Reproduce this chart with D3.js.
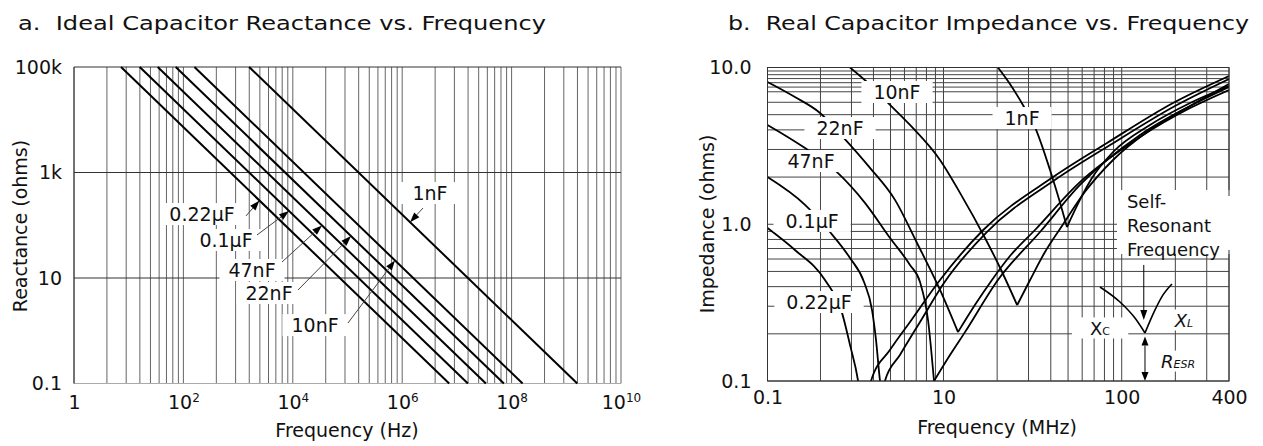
<!DOCTYPE html>
<html>
<head>
<meta charset="utf-8">
<script src="https://cdn.jsdelivr.net/npm/d3@7"></script>
<style>
  body { margin: 0; background: #fff; }
  svg text { font-family: "DejaVu Sans", sans-serif; fill: #111; }
</style>
</head>
<body>
<svg id="chart" width="1263" height="446"></svg>
<script>
// ---------- panel a : ideal capacitor reactance ----------
var capNames = ["1nF", "10nF", "22nF", "47nF", "0.1\u00b5F", "0.22\u00b5F"];
// frequency (Hz) where each ideal line enters at the top (100k) and leaves at the bottom (0.1 ohm)
var idealTopHz = [1592, 159, 72.3, 33.9, 15.9, 7.23];
var idealBottomHz = [1.59e9, 1.59e8, 7.23e7, 3.39e7, 1.59e7, 7.23e6];
var idealTopOhm = 1e5, idealBottomOhm = 0.1;

var aXTicks = [1, 1e2, 1e4, 1e6, 1e8, 1e10];
var aXTickExp = ["", "2", "4", "6", "8", "10"];
var aYTicks = [0.1, 10, 1e3, 1e5];
var aYTickLabels = ["0.1", "10", "1k", "100k"];
var gridMultiples = [1, 2, 3, 4, 5, 6, 7, 8, 9];

// annotation of panel a, same order as capNames: label centre [Hz, ohm], arrow tail [Hz, ohm], arrow tip Hz
var aLabelAt = [[3.22e6, 408], [25500, 1.28], [3670, 5.2], [1795, 14.2], [601, 52.5], [219, 163]];
var aArrowTail = [[2.4e6, 212], [102000, 1.40], [12450, 5.93], [6350, 20.1], [2217, 65.3], [1393, 150]];
var aArrowTipHz = [1.39e6, 738000, 116000, 34200, 8530, 2460];

// ---------- panel b : real capacitor impedance [MHz, ohm] ----------
var zDown1nF = [[20.2, 10], [23.6, 7.85], [27.9, 5.77], [32.6, 4.17], [39.6, 2.22], [45.1, 1.37], [49.3, 0.96]];
var zUp1nF = [[49.3, 0.96], [58.3, 1.43], [68.1, 1.97], [89.4, 2.89], [144, 4.30], [242, 5.94], [400, 7.62]];
var zDown10nF = [[0.866, 10], [1.35, 8.08], [2.28, 6.03], [4.16, 4.30], [9.13, 2.57], [12.4, 1.58], [17.1, 0.817], [20.8, 0.526], [25.9, 0.305]];
var zUp10nF = [[25.9, 0.305], [30.6, 0.441], [37.1, 0.665], [46.2, 0.975], [62.2, 1.61], [89.4, 2.57], [144, 3.99], [242, 5.68], [400, 7.85]];
var zDown22nF = [[0.1, 8.08], [0.205, 6.48], [0.395, 5.13], [0.722, 3.60], [1.46, 2.29], [2.81, 1.43], [5.00, 0.759], [9.13, 0.381], [12.06, 0.205]];
var zUp22nF = [[12.06, 0.205], [15.0, 0.305], [18.7, 0.441], [23.6, 0.627], [32.6, 0.919], [56.9, 1.81], [126.7, 3.60], [242, 5.51], [400, 7.19]];
var zDown47nF = [[0.1, 4.30], [0.267, 3.06], [0.616, 2.15], [1.28, 1.37], [2.47, 0.817], [4.16, 0.55], [5.41, 0.428], [6.67, 0.245], [7.80, 0.1]];
var zUp47nF = [[7.80, 0.1], [10.9, 0.147], [13.2, 0.205], [20.2, 0.441], [34.8, 0.892], [58.3, 1.78], [126.7, 3.71], [242, 5.68], [400, 7.51]];
var zDown100nF = [[0.1, 2.00], [0.267, 1.33], [0.513, 0.892], [0.866, 0.609], [1.25, 0.428], [1.54, 0.284], [1.71, 0.183], [1.90, 0.1], [1.95, 0.09]];
var zUp100nF = [[2.10, 0.09], [2.16, 0.1], [3.21, 0.147], [5.41, 0.238], [10.06, 0.422], [17.5, 0.892], [42.3, 1.92], [86.0, 3.20], [199, 5.68], [400, 8.45]];
var zDown220nF = [[0.1, 0.946], [0.205, 0.685], [0.45, 0.441], [0.703, 0.272], [0.866, 0.170], [1.07, 0.1], [1.1, 0.09]];
var zUp220nF = [[1.46, 0.09], [1.50, 0.1], [2.47, 0.158], [4.16, 0.238], [9.13, 0.441], [16.7, 0.919], [41.2, 2.00], [82.7, 3.30], [194, 5.94], [400, 8.83]];

var bXTicks = [0.1, 10, 100, 400];
var bYTicks = [0.1, 1, 10];
var bYTickLabels = ["0.1", "1.0", "10.0"];
var bYExtraGrid = [7.5, 8.5, 9.5];
// label centres in panel b [MHz, ohm], same order as capNames
var bLabelAt = [[27.6, 4.76], [2.96, 6.98], [0.667, 4.11], [0.312, 2.53], [0.321, 1.05], [0.385, 0.319]];

// self resonance sketch [MHz, ohm]
var srLeft = [[75.5, 0.398], [97.8, 0.319], [118.7, 0.252], [135.1, 0.2025]];
var srRight = [[135.1, 0.2025], [153.8, 0.284], [170.5, 0.354], [191.4, 0.416]];
var srArrow = [[133, 0.55], [133, 0.245]];
var srEsr = [[135.1, 0.192], [135.1, 0.1]];
var srTextAt = [107, 1.39];
var xcAt = [75.5, 0.218], xlAt = [223.7, 0.245], esrAt = [207, 0.134];

var svg = d3.select("#chart");

function addLabel(g, x, y, str, padX, padY, size) {
  var t = g.append("text").attr("x", x).attr("y", y)
    .attr("text-anchor", "middle").attr("dominant-baseline", "central")
    .style("font-size", (size || 19) + "px").text(str);
  var bb = t.node().getBBox();
  g.insert("rect", function () { return t.node(); })
    .attr("x", bb.x - padX).attr("y", bb.y - padY)
    .attr("width", bb.width + 2 * padX).attr("height", bb.height + 2 * padY)
    .attr("fill", "#fff");
  return t;
}

function arrowHead(g, x1, y1, x2, y2, len, half) {
  var a = Math.atan2(y2 - y1, x2 - x1);
  var bx = x2 - len * Math.cos(a), by = y2 - len * Math.sin(a);
  g.append("path")
    .attr("d", "M" + x2 + "," + y2 + "L" + (bx - half * Math.sin(a)) + "," + (by + half * Math.cos(a)) +
      "L" + (bx + half * Math.sin(a)) + "," + (by - half * Math.cos(a)) + "Z")
    .attr("fill", "#000");
  return [bx, by];
}

function addArrow(g, x1, y1, x2, y2, color) {
  var b = arrowHead(g, x1, y1, x2, y2, 10, 3.5);
  g.append("line").attr("x1", x1).attr("y1", y1).attr("x2", b[0]).attr("y2", b[1])
    .attr("stroke", color).attr("stroke-width", 1);
}

function idealOhmAt(i, f) {
  var t = (Math.log(f) - Math.log(idealTopHz[i])) / (Math.log(idealBottomHz[i]) - Math.log(idealTopHz[i]));
  return Math.exp(Math.log(idealTopOhm) + t * (Math.log(idealBottomOhm) - Math.log(idealTopOhm)));
}

// ================= panel a =================
var xa = d3.scaleLog().domain([1, 1e10]).range([74, 621]);
var ya = d3.scaleLog().domain([0.1, 1e5]).range([383.5, 67]);
var ga = svg.append("g");

ga.append("text").attr("x", 18).attr("y", 30).style("font-size", "20px")
  .attr("textLength", 528).attr("lengthAdjust", "spacingAndGlyphs")
  .text("a.\u00a0 Ideal Capacitor Reactance vs. Frequency");

// log paper: every cycle of the grid covers two decades
var aGrid = [];
for (var c = 0; c < 5; c++) gridMultiples.forEach(function (k) { aGrid.push(Math.pow(100, c) * k * k); });
aGrid.push(1e10);
ga.selectAll(".vgrid").data(aGrid).enter().append("line")
  .attr("x1", function (d) { return xa(d); }).attr("x2", function (d) { return xa(d); })
  .attr("y1", ya(0.1)).attr("y2", ya(1e5))
  .attr("stroke", "#555").attr("stroke-width", 0.9);
ga.selectAll(".hgrid").data(aYTicks).enter().append("line")
  .attr("x1", xa(1)).attr("x2", xa(1e10))
  .attr("y1", function (d) { return ya(d); }).attr("y2", function (d) { return ya(d); })
  .attr("stroke", function (d) { return d === 0.1 ? "#aaa" : "#333"; }).attr("stroke-width", 1);
ga.append("line").attr("x1", xa(1)).attr("x2", xa(1)).attr("y1", ya(0.1)).attr("y2", ya(1e5))
  .attr("stroke", "#333");

var lineA = d3.line().x(function (d) { return xa(d[0]); }).y(function (d) { return ya(d[1]); });
capNames.forEach(function (n, i) {
  ga.append("path")
    .attr("d", lineA([[idealTopHz[i], idealTopOhm], [idealBottomHz[i], idealBottomOhm]]))
    .attr("fill", "none").attr("stroke", "#000").attr("stroke-width", 2);
});

capNames.forEach(function (n, i) {
  addLabel(ga, xa(aLabelAt[i][0]), ya(aLabelAt[i][1]), n, i === 0 ? 14 : 9, 0);
  var tf = aArrowTipHz[i];
  addArrow(ga, xa(aArrowTail[i][0]), ya(aArrowTail[i][1]), xa(tf), ya(idealOhmAt(i, tf)), "#444");
});

var axA = ga.append("g").attr("transform", "translate(0," + ya(0.1) + ")")
  .call(d3.axisBottom(xa).tickValues(aXTicks).tickSize(0).tickPadding(12).tickFormat(function () { return ""; }));
axA.select(".domain").remove();
axA.selectAll(".tick text").style("font-size", "19px").attr("font-family", null)
  .each(function (d, i) {
    var t = d3.select(this);
    t.text(i === 0 ? "1" : "10");
    if (aXTickExp[i]) t.append("tspan").attr("dy", "-0.55em").style("font-size", "12px").text(aXTickExp[i]);
  });
var ayA = ga.append("g").attr("transform", "translate(" + xa(1) + ",0)")
  .call(d3.axisLeft(ya).tickValues(aYTicks).tickSize(0).tickPadding(12)
    .tickFormat(function (d, i) { return aYTickLabels[i]; }));
ayA.select(".domain").remove();
ayA.selectAll(".tick text").style("font-size", "19px").attr("font-family", null);

ga.append("text").attr("x", 347).attr("y", 437).attr("text-anchor", "middle")
  .style("font-size", "19px").text("Frequency (Hz)");
ga.append("text").attr("transform", "translate(27,226) rotate(-90)").attr("text-anchor", "middle")
  .style("font-size", "19px").text("Reactance (ohms)");

// ================= panel b =================
var xb = d3.scaleLog().domain([0.1, 10, 400]).range([767.5, 943.5, 1229]);
var yb = d3.scaleLog().domain([0.1, 10]).range([381, 67.5]);
var gb = svg.append("g");

gb.append("text").attr("x", 728).attr("y", 30).style("font-size", "20px")
  .attr("textLength", 521).attr("lengthAdjust", "spacingAndGlyphs")
  .text("b.\u00a0 Real Capacitor Impedance vs. Frequency");

var bGridX = [];
gridMultiples.forEach(function (k) { bGridX.push(0.1 * k * k); });
gridMultiples.forEach(function (k) { bGridX.push(10 * k); });
[1, 2, 3, 4].forEach(function (k) { bGridX.push(100 * k); });
var bGridY = [];
gridMultiples.forEach(function (k) { bGridY.push(0.1 * k); bGridY.push(k); });
bGridY = bGridY.concat(bYExtraGrid, [10]);

gb.selectAll(".vgrid").data(bGridX).enter().append("line")
  .attr("x1", function (d) { return xb(d); }).attr("x2", function (d) { return xb(d); })
  .attr("y1", yb(0.1)).attr("y2", yb(10))
  .attr("stroke", "#444").attr("stroke-width", 1);
gb.selectAll(".hgrid").data(bGridY).enter().append("line")
  .attr("x1", xb(0.1)).attr("x2", xb(400))
  .attr("y1", function (d) { return yb(d); }).attr("y2", function (d) { return yb(d); })
  .attr("stroke", "#444").attr("stroke-width", 1);

gb.append("clipPath").attr("id", "clipB").append("rect")
  .attr("x", xb(0.1)).attr("y", yb(10)).attr("width", xb(400) - xb(0.1)).attr("height", yb(0.1) - yb(10));
var curvesB = gb.append("g").attr("clip-path", "url(#clipB)");
var lineB = d3.line().x(function (d) { return xb(d[0]); }).y(function (d) { return yb(d[1]); })
  .curve(d3.curveMonotoneX);
[zDown1nF, zUp1nF, zDown10nF, zUp10nF, zDown22nF, zUp22nF, zDown47nF, zUp47nF,
  zDown100nF, zUp100nF, zDown220nF, zUp220nF].forEach(function (s) {
  curvesB.append("path").attr("d", lineB(s)).attr("fill", "none")
    .attr("stroke", "#000").attr("stroke-width", 1.8);
});

capNames.forEach(function (n, i) {
  addLabel(gb, xb(bLabelAt[i][0]), yb(bLabelAt[i][1]), n, 12, 0);
});

// self resonant frequency sketch
var srG = gb.append("g");
srG.append("rect").attr("x", 1117).attr("y", 190).attr("width", 118).attr("height", 64).attr("fill", "#fff");
var srText = srG.append("text").attr("x", xb(srTextAt[0])).attr("y", yb(srTextAt[1]))
  .style("font-size", "18px");
["Self-", "Resonant", "Frequency"].forEach(function (s, i) {
  srText.append("tspan").attr("x", xb(srTextAt[0])).attr("dy", i === 0 ? "0.35em" : "1.33em").text(s);
});
[srLeft, srRight].forEach(function (s) {
  srG.append("path").attr("d", lineB(s)).attr("fill", "none").attr("stroke", "#000").attr("stroke-width", 1.6);
});
addArrow(srG, xb(srArrow[0][0]), yb(srArrow[0][1]), xb(srArrow[1][0]), yb(srArrow[1][1]), "#000");
var e0x = xb(srEsr[0][0]), e0y = yb(srEsr[0][1]), e1y = yb(srEsr[1][1]);
arrowHead(srG, e0x, (e0y + e1y) / 2, e0x, e0y, 9, 3.5);
arrowHead(srG, e0x, (e0y + e1y) / 2, e0x, e1y, 9, 3.5);
srG.append("line").attr("x1", e0x).attr("x2", e0x).attr("y1", e0y + 9).attr("y2", e1y - 9)
  .attr("stroke", "#000").attr("stroke-width", 1);

function subLabel(x, y, main, sub, italic, pad) {
  var t = srG.append("text").attr("x", x).attr("y", y).attr("text-anchor", "middle")
    .attr("dominant-baseline", "central").style("font-size", "18px")
    .style("font-style", italic ? "italic" : "normal");
  t.append("tspan").text(main);
  t.append("tspan").attr("dy", "0.3em").style("font-size", "11px").text(sub);
  var bb = t.node().getBBox();
  srG.insert("rect", function () { return t.node(); })
    .attr("x", bb.x - pad).attr("y", bb.y).attr("width", bb.width + 2 * pad).attr("height", bb.height)
    .attr("fill", "#fff");
}
subLabel(xb(xcAt[0]), yb(xcAt[1]), "X", "C", false, 18);
subLabel(xb(xlAt[0]), yb(xlAt[1]), "X", "L", true, 3);
subLabel(xb(esrAt[0]), yb(esrAt[1]), "R", "ESR", true, 3);

gb.append("rect").attr("x", xb(0.1)).attr("y", yb(10)).attr("width", xb(400) - xb(0.1))
  .attr("height", yb(0.1) - yb(10)).attr("fill", "none").attr("stroke", "#333").attr("stroke-width", 1);
// gap of the frame behind the text box
gb.append("rect").attr("x", 1225).attr("y", 196).attr("width", 8).attr("height", 54).attr("fill", "#fff");
srText.raise();

var axB = gb.append("g").attr("transform", "translate(0," + yb(0.1) + ")")
  .call(d3.axisBottom(xb).tickValues(bXTicks).tickSize(0).tickPadding(10)
    .tickFormat(function (d) { return String(d); }));
axB.select(".domain").remove();
axB.selectAll(".tick text").style("font-size", "19px").attr("font-family", null);
var ayB = gb.append("g").attr("transform", "translate(" + xb(0.1) + ",0)")
  .call(d3.axisLeft(yb).tickValues(bYTicks).tickSize(0).tickPadding(16)
    .tickFormat(function (d, i) { return bYTickLabels[i]; }));
ayB.select(".domain").remove();
ayB.selectAll(".tick text").style("font-size", "19px").attr("font-family", null);

gb.append("text").attr("x", 997).attr("y", 434).attr("text-anchor", "middle")
  .style("font-size", "19px").text("Frequency (MHz)");
gb.append("text").attr("transform", "translate(714,224) rotate(-90)").attr("text-anchor", "middle")
  .style("font-size", "19px").text("Impedance (ohms)");
</script>
</body>
</html>
